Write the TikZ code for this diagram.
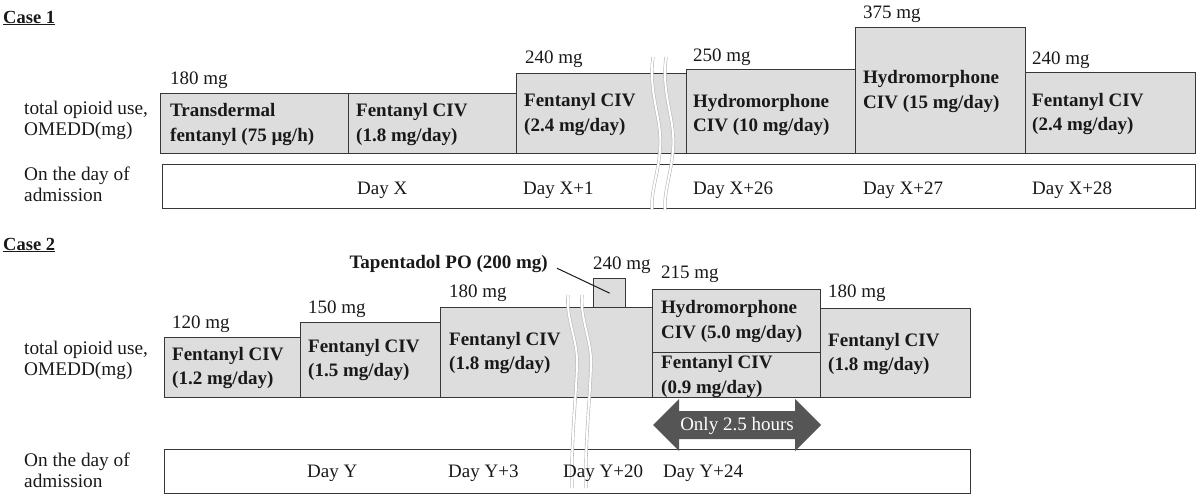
\documentclass[tikz,border=0pt]{standalone}
\usepackage{fontspec}
\setmainfont{Liberation Serif}
\definecolor{boxfill}{RGB}{221,221,221}
\definecolor{boxline}{RGB}{55,55,55}
\definecolor{txt}{RGB}{25,25,25}
\definecolor{arrowfill}{RGB}{85,85,85}
\definecolor{brkline}{RGB}{185,185,185}
\tikzset{
  box/.style={draw=boxline, fill=boxfill, line width=1.3pt, inner sep=0pt, anchor=north west},
  dayrow/.style={draw=boxline, fill=white, line width=1.3pt, inner sep=0pt, anchor=north west},
  btxt/.style={font=\fontsize{19}{24.5}\selectfont\bfseries, text=txt, align=left, anchor=west, inner sep=0pt},
  rtxt/.style={font=\fontsize{19}{24}\selectfont, text=txt, align=left, anchor=west, inner sep=0pt},
  lbl/.style={font=\fontsize{19.3}{21}\selectfont, text=txt, align=left, anchor=west, inner sep=0pt},
  brk/.style={draw=brkline, double=white, line width=0.6pt, double distance=2pt},
}
\begin{document}
\begin{tikzpicture}[x=1pt,y=-1pt]
\useasboundingbox (0,0) rectangle (1200,500);
% ---------------- Case 1 ----------------
\node[font=\fontsize{18.5}{22}\selectfont\bfseries, text=txt, anchor=west, inner sep=0pt] (case1) at (3,18) {\underline{Case 1}};
\node[lbl] (lab1a) at (24,120.5) {total opioid use,\\OMEDD(mg)};
\node[lbl] (lab1b) at (24,184.5) {On the day of\\admission};

\node[box, minimum width=188pt, minimum height=60pt] (c1a) at (160,93) {};
\node[box, minimum width=168pt, minimum height=60pt] (c1b) at (348,93) {};
\node[box, minimum width=170pt, minimum height=80pt] (c1c) at (516,73) {};
\node[box, minimum width=169pt, minimum height=84pt] (c1d) at (686,69) {};
\node[box, minimum width=170pt, minimum height=126pt] (c1e) at (855,27) {};
\node[box, minimum width=170pt, minimum height=81pt] (c1f) at (1025,72) {};
\node[dayrow, minimum width=1033pt, minimum height=44pt] (d1) at (162,164) {};

\draw[brk] (653,57) .. controls (648,95) and (663,120) .. (660,150) .. controls (658,175) and (651,190) .. (652,210);
\draw[brk] (666,57) .. controls (661,95) and (676,120) .. (673,150) .. controls (671,175) and (664,190) .. (665,210);

\node[btxt] (t1a) at (170,124.5) {Transdermal\\fentanyl (75 µg/h)};
\node[btxt] (t1b) at (356,124.5) {Fentanyl CIV\\(1.8 mg/day)};
\node[btxt] (t1c) at (524,114.5) {Fentanyl CIV\\(2.4 mg/day)};
\node[btxt] (t1d) at (693,115) {Hydromorphone\\CIV (10 mg/day)};
\node[btxt] (t1e) at (863,91.5) {Hydromorphone\\CIV (15 mg/day)};
\node[btxt] (t1f) at (1032,114) {Fentanyl CIV\\(2.4 mg/day)};

\node[rtxt] (m1a) at (170,80) {180 mg};
\node[rtxt] (m1c) at (525,59) {240 mg};
\node[rtxt] (m1d) at (693,57) {250 mg};
\node[rtxt] (m1e) at (863,14) {375 mg};
\node[rtxt] (m1f) at (1032,60) {240 mg};

\node[rtxt] (dx0) at (357,190) {Day X};
\node[rtxt] (dx1) at (523,190) {Day X+1};
\node[rtxt] (dx26) at (693,190) {Day X+26};
\node[rtxt] (dx27) at (863,190) {Day X+27};
\node[rtxt] (dx28) at (1032,190) {Day X+28};

% ---------------- Case 2 ----------------
\node[font=\fontsize{18.5}{22}\selectfont\bfseries, text=txt, anchor=west, inner sep=0pt] (case2) at (3,245) {\underline{Case 2}};
\node[lbl] (lab2a) at (24,360) {total opioid use,\\OMEDD(mg)};
\node[lbl] (lab2b) at (24,470.5) {On the day of\\admission};

\node[box, minimum width=136pt, minimum height=60pt] (c2a) at (164,337) {};
\node[box, minimum width=140pt, minimum height=75pt] (c2b) at (300,322) {};
\node[box, minimum width=212pt, minimum height=90pt] (c2c) at (440,307) {};
\node[box, minimum width=32pt, minimum height=29pt] (tap) at (593,278) {};
\node[box, minimum width=168pt, minimum height=63pt] (c2d) at (652,289) {};
\node[box, minimum width=168pt, minimum height=45pt] (c2e) at (652,352) {};
\node[box, minimum width=150pt, minimum height=89pt] (c2f) at (820,308) {};
\node[dayrow, minimum width=806pt, minimum height=44pt] (d2) at (164,449) {};

\draw[brk] (568,295) .. controls (566,320) and (578,340) .. (577,365) .. controls (576,400) and (571,440) .. (572,488);
\draw[brk] (582,295) .. controls (580,320) and (592,340) .. (591,365) .. controls (590,400) and (585,440) .. (586,488);

\node[btxt] (t2a) at (172,368) {Fentanyl CIV\\(1.2 mg/day)};
\node[btxt] (t2b) at (308,360) {Fentanyl CIV\\(1.5 mg/day)};
\node[btxt] (t2c) at (449,353) {Fentanyl CIV\\(1.8 mg/day)};
\node[btxt] (t2d) at (661,321.5) {Hydromorphone\\CIV (5.0 mg/day)};
\node[btxt] (t2e) at (661,376.5) {Fentanyl CIV\\(0.9 mg/day)};
\node[btxt] (t2f) at (828,354) {Fentanyl CIV\\(1.8 mg/day)};

\node[rtxt] (m2a) at (172,324) {120 mg};
\node[rtxt] (m2b) at (308,309) {150 mg};
\node[rtxt] (m2c) at (449,293) {180 mg};
\node[rtxt] (m2t) at (593,265) {240 mg};
\node[rtxt] (m2d) at (661,274) {215 mg};
\node[rtxt] (m2f) at (828,293) {180 mg};

\node[btxt, anchor=east] (taplbl) at (548,264) {Tapentadol PO (200 mg)};
\draw[line width=1pt, txt, shorten <=10pt] (taplbl.east) -- (tap.center);

% arrow
\fill[arrowfill] (653,425) -- (679,399) -- (679,411) -- (795,411) -- (795,399) -- (821,425)
  -- (795,451) -- (795,439) -- (679,439) -- (679,451) -- cycle;
\node[rtxt, anchor=center, text=white] (only) at (737,426) {Only 2.5 hours};

\node[rtxt] (dy0) at (307,473) {Day Y};
\node[rtxt] (dy3) at (448,473) {Day Y+3};
\node[rtxt] (dy20) at (563,473) {Day Y+20};
\node[rtxt] (dy24) at (663,473) {Day Y+24};
\end{tikzpicture}
\end{document}
